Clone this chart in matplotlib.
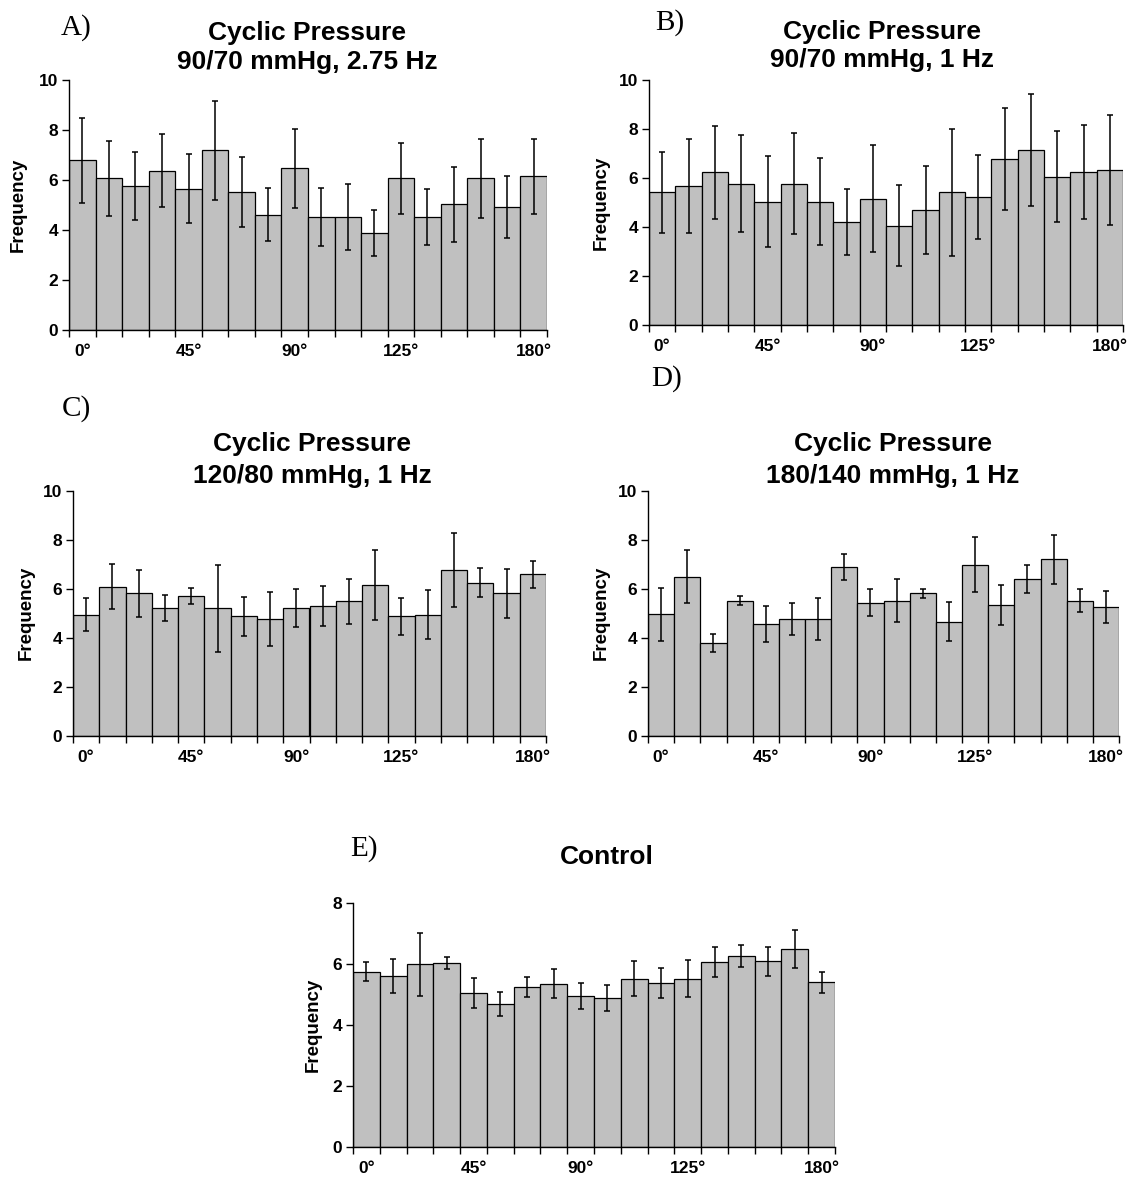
import matplotlib
matplotlib.use("Agg")
import matplotlib.pyplot as plt
import numpy as np

# Orientation histograms: mean frequency per 10-degree bin with error bars
tick_labels = ["0°", "45°", "90°", "125°", "180°"]
tick_bins = [0, 4, 8, 12, 17]

freq_a = [6.79, 6.07, 5.75, 6.37, 5.65, 7.19, 5.52, 4.61, 6.47,
          4.52, 4.52, 3.89, 6.07, 4.52, 5.03, 6.07, 4.93, 6.16]
err_a = [1.70, 1.49, 1.36, 1.46, 1.38, 1.98, 1.40, 1.06, 1.59,
         1.16, 1.32, 0.92, 1.41, 1.11, 1.50, 1.57, 1.23, 1.50]

freq_b = [5.42, 5.69, 6.24, 5.77, 5.04, 5.77, 5.04, 4.21, 5.15,
          4.05, 4.69, 5.41, 5.22, 6.79, 7.13, 6.06, 6.24, 6.33]
err_b = [1.66, 1.92, 1.90, 1.98, 1.85, 2.05, 1.79, 1.36, 2.18,
         1.65, 1.79, 2.61, 1.73, 2.08, 2.28, 1.87, 1.92, 2.26]

freq_c = [4.95, 6.10, 5.82, 5.22, 5.73, 5.22, 4.88, 4.77, 5.22,
          5.31, 5.49, 6.17, 4.88, 4.95, 6.78, 6.26, 5.83, 6.60]
err_c = [0.67, 0.91, 0.96, 0.54, 0.33, 1.78, 0.79, 1.10, 0.78,
         0.82, 0.93, 1.44, 0.75, 0.99, 1.51, 0.60, 1.00, 0.54]

freq_d = [4.97, 6.51, 3.79, 5.52, 4.58, 4.77, 4.77, 6.89, 5.44,
          5.53, 5.82, 4.67, 7.00, 5.35, 6.42, 7.21, 5.53, 5.26]
err_d = [1.08, 1.08, 0.36, 0.19, 0.74, 0.64, 0.85, 0.52, 0.56,
         0.86, 0.18, 0.80, 1.12, 0.80, 0.57, 0.99, 0.46, 0.65]

freq_e = [5.75, 5.60, 5.99, 6.02, 5.05, 4.69, 5.26, 5.36, 4.95,
          4.89, 5.52, 5.38, 5.52, 6.07, 6.25, 6.09, 6.49, 5.40]
err_e = [0.32, 0.56, 1.03, 0.20, 0.50, 0.40, 0.33, 0.46, 0.44,
         0.42, 0.58, 0.49, 0.60, 0.48, 0.36, 0.47, 0.62, 0.34]

W, H = 1130, 1184
SANS = ["Liberation Sans", "DejaVu Sans"]
SERIF = ["Liberation Serif", "DejaVu Serif"]

fig = plt.figure(figsize=(W / 100, H / 100), dpi=100)


def px_axes(left, top, right, bottom):
    return fig.add_axes([left / W, 1 - bottom / H, (right - left) / W, (bottom - top) / H])


def fig_text(x, y, s, **kw):
    fig.text(x / W, 1 - y / H, s, **kw)


panels = [
    # letter, title lines, data, errors, y max, axes box, letter pos, title pos, ylabel pos
    dict(letter="A)", title=["Cyclic Pressure", "90/70 mmHg, 2.75 Hz"],
         freq=freq_a, err=err_a, ymax=10, box=(69, 80, 547, 330),
         lpos=(61, 28), tpos=(307, 33, 62), ypos=(18, 205)),
    dict(letter="B)", title=["Cyclic Pressure", "90/70 mmHg, 1 Hz"],
         freq=freq_b, err=err_b, ymax=10, box=(649, 80, 1123, 325),
         lpos=(655, 23), tpos=(882, 32, 60), ypos=(601, 203)),
    dict(letter="C)", title=["Cyclic Pressure", "120/80 mmHg, 1 Hz"],
         freq=freq_c, err=err_c, ymax=10, box=(73, 491, 546, 736),
         lpos=(62, 409), tpos=(312, 444, 476), ypos=(26, 613)),
    dict(letter="D)", title=["Cyclic Pressure", "180/140 mmHg, 1 Hz"],
         freq=freq_d, err=err_d, ymax=10, box=(648, 491, 1119, 736),
         lpos=(651, 379), tpos=(893, 444, 476), ypos=(601, 613)),
    dict(letter="E)", title=["Control"],
         freq=freq_e, err=err_e, ymax=8, box=(353, 903, 835, 1147),
         lpos=(350, 849), tpos=(607, 857), ypos=(313, 1025)),
]

for p in panels:
    ax = px_axes(*p["box"])
    n = len(p["freq"])
    x = np.arange(n)
    ax.bar(x, p["freq"], width=1.0, color="#c0c0c0", edgecolor="black",
           linewidth=0.9, zorder=2)
    ax.errorbar(x, p["freq"], yerr=p["err"], fmt="none", ecolor="black",
                elinewidth=1.1, capsize=2.2, capthick=1.1, zorder=3)
    ax.set_xlim(-0.5, n - 0.5)
    ax.set_ylim(0, p["ymax"])
    ax.set_yticks(np.arange(0, p["ymax"] + 1, 2))
    ax.set_xticks(tick_bins)
    ax.set_xticklabels(tick_labels)
    ax.set_xticks(np.arange(-0.5, n, 1.0), minor=True)
    ax.tick_params(axis="x", which="major", length=0, pad=10)
    ax.tick_params(axis="x", which="minor", length=5, width=1.0, direction="out")
    ax.tick_params(axis="y", length=5, width=1.0, direction="out", pad=3)
    for lab in ax.get_xticklabels() + ax.get_yticklabels():
        lab.set_fontfamily(SANS)
        lab.set_fontweight("bold")
        lab.set_fontsize(12.5)
    for side in ("top", "right"):
        ax.spines[side].set_visible(False)
    for side in ("left", "bottom"):
        ax.spines[side].set_linewidth(1.0)
    ax.set_facecolor("none")

    fig_text(*p["lpos"], p["letter"], family=SERIF, fontsize=21,
             ha="left", va="center")
    tx = p["tpos"][0]
    for line, ty in zip(p["title"], p["tpos"][1:]):
        fig_text(tx, ty, line, family=SANS, fontweight="bold", fontsize=19,
                 ha="center", va="center")
    fig_text(*p["ypos"], "Frequency", family=SANS, fontweight="bold",
             fontsize=13.5, rotation=90, ha="center", va="center")

fig.savefig("out.png", dpi=100, facecolor="white")
